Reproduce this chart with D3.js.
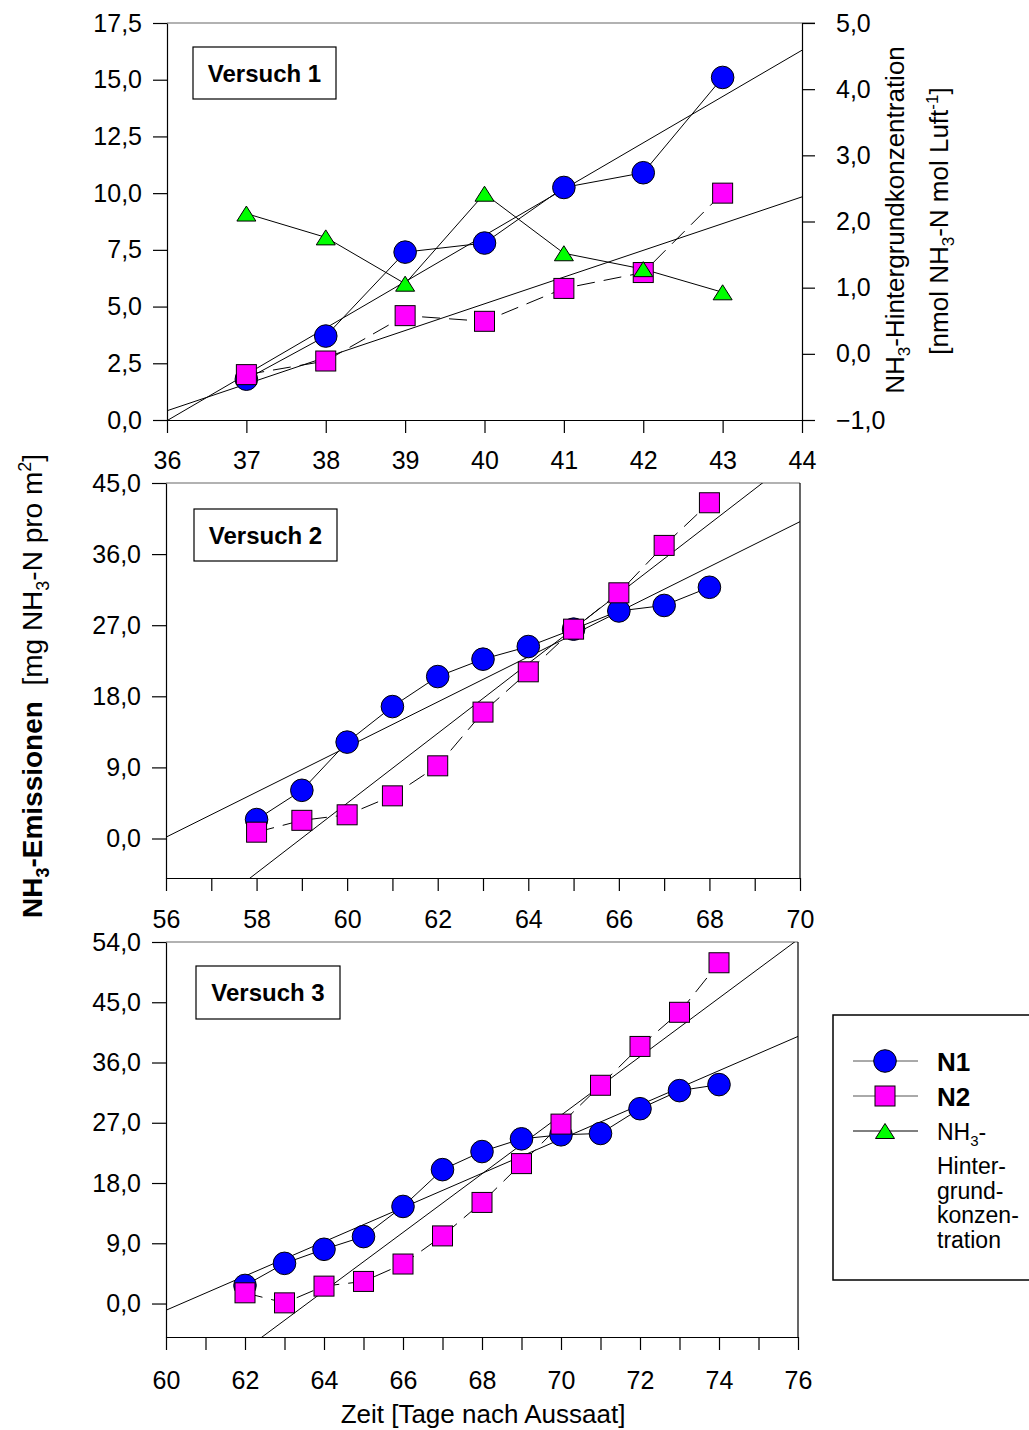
<!DOCTYPE html>
<html>
<head>
<meta charset="utf-8">
<script src="https://cdn.jsdelivr.net/npm/d3@7"></script>
<style>
  body { margin: 0; background: #fff; }
  svg { display: block; font-family: "Liberation Sans", Arial, sans-serif; }
</style>
</head>
<body>
<svg id="chart" width="1029" height="1430"></svg>
<script>
// ---- Versuch 1 (Tage 37–43) ----
const days1 = [37, 38, 39, 40, 41, 42, 43];
const n1Exp1 = [1.8, 3.7, 7.4, 7.8, 10.25, 10.9, 15.1];
const n2Exp1 = [2.0, 2.6, 4.6, 4.35, 5.8, 6.5, 10.0];
const bgExp1 = [2.12, 1.76, 1.06, 2.42, 1.52, 1.28, 0.93];   // nmol NH3-N mol Luft^-1

// ---- Versuch 2 (Tage 58–68) ----
const days2 = [58, 59, 60, 61, 62, 63, 64, 65, 66, 67, 68];
const n1Exp2 = [2.4, 6.1, 12.2, 16.7, 20.5, 22.7, 24.3, 26.5, 28.8, 29.5, 31.8];
const n2Exp2 = [0.8, 2.3, 3.0, 5.4, 9.2, 16.0, 21.1, 26.5, 31.1, 37.1, 42.5];

// ---- Versuch 3 (Tage 62–74) ----
const days3 = [62, 63, 64, 65, 66, 67, 68, 69, 70, 71, 72, 73, 74];
const n1Exp3 = [2.7, 6.0, 8.1, 10.0, 14.5, 20.0, 22.7, 24.6, 25.2, 25.4, 29.1, 31.8, 32.7];
const n2Exp3 = [1.6, 0.1, 2.6, 3.3, 5.9, 10.1, 15.1, 20.9, 26.8, 32.6, 38.4, 43.5, 50.9];

// ---- axis ticks ----
const xTicks1 = [36, 37, 38, 39, 40, 41, 42, 43, 44];
const yTicks1 = [0, 2.5, 5, 7.5, 10, 12.5, 15, 17.5];
const yTicksRight1 = [-1, 0, 1, 2, 3, 4, 5];
const xTicks2 = d3.range(56, 71);
const yTicks2 = [0, 9, 18, 27, 36, 45];
const xTicks3 = d3.range(60, 77);
const yTicks3 = [0, 9, 18, 27, 36, 45, 54];

const panelTitles = ["Versuch 1", "Versuch 2", "Versuch 3"];
const legendLabels = ["N1", "N2"];
const legendBgLines = ["NH\u2083-", "Hinter-", "grund-", "konzen-", "tration"];

const COL_N1 = "#0000ff", COL_N2 = "#ff00ff", COL_BG = "#00ff00";
const FS = 25;

const deLocale = d3.formatLocale({ decimal: ",", thousands: ".", grouping: [3], currency: ["", " €"] });
const fmt1 = deLocale.format(".1f");

const svg = d3.select("#chart");

// least-squares straight line through a series
function linFit(xs, ys) {
  const mx = d3.mean(xs), my = d3.mean(ys);
  let sxy = 0, sxx = 0;
  xs.forEach((x, i) => { sxy += (x - mx) * (ys[i] - my); sxx += (x - mx) * (x - mx); });
  const m = sxy / sxx;
  return { m, b: my - m * mx };
}

function trianglePath(cx, cy, w, h) {
  return `M${cx},${cy - h / 2}L${cx + w / 2},${cy + h / 2}L${cx - w / 2},${cy + h / 2}Z`;
}

function styleAxis(g) {
  g.selectAll("path.domain").attr("stroke", "#000").attr("stroke-width", 1.2);
  g.selectAll(".tick line").attr("stroke", "#000").attr("stroke-width", 1.2);
  g.selectAll(".tick text").attr("fill", "#000").style("font-size", FS + "px")
    .style("font-family", '"Liberation Sans", Arial, sans-serif');
}

function drawPanel(cfg) {
  const { left, right, top, bottom, xDomain, yDomain, xTicks, yTicks, xEven, xPad, id } = cfg;
  const x = d3.scaleLinear().domain(xDomain).range([left, right]);
  const y = d3.scaleLinear().domain(yDomain).range([bottom, top]);
  const g = svg.append("g");

  g.append("clipPath").attr("id", id).append("rect")
    .attr("x", left).attr("y", top).attr("width", right - left).attr("height", bottom - top);

  // frame: top edge (and right edge where there is no second axis)
  g.append("line").attr("x1", left).attr("x2", right + (cfg.rightAxis ? 13 : 0))
    .attr("y1", top).attr("y2", top).attr("stroke", "#666").attr("stroke-width", 1.2);
  if (!cfg.rightAxis) {
    g.append("line").attr("x1", right).attr("x2", right).attr("y1", top).attr("y2", bottom)
      .attr("stroke", "#000").attr("stroke-width", 1.2);
  }

  // bottom axis
  const ax = g.append("g").attr("transform", `translate(0,${bottom})`)
    .call(d3.axisBottom(x).tickValues(xTicks).tickSize(13).tickSizeOuter(0).tickPadding(xPad)
      .tickFormat(d => (!xEven || d % 2 === 0) ? d : ""));
  styleAxis(ax);

  // left axis
  const ay = g.append("g").attr("transform", `translate(${left},0)`)
    .call(d3.axisLeft(y).tickValues(yTicks).tickSize(14).tickSizeOuter(0).tickPadding(11).tickFormat(fmt1));
  styleAxis(ay);

  // regression lines
  const regG = g.append("g").attr("clip-path", `url(#${id})`);
  cfg.series.forEach(s => {
    const f = linFit(s.xs, s.ys);
    regG.append("line")
      .attr("x1", x(xDomain[0])).attr("y1", y(f.m * xDomain[0] + f.b))
      .attr("x2", x(xDomain[1])).attr("y2", y(f.m * xDomain[1] + f.b))
      .attr("stroke", "#000").attr("stroke-width", 1);
  });

  return { g, x, y };
}

function drawSeries(p, xs, ys, kind, yScale) {
  const ys2 = yScale || p.y;
  const pts = xs.map((d, i) => [d, ys[i]]);
  const path = p.g.append("path").datum(pts)
    .attr("d", d3.line().x(d => p.x(d[0])).y(d => ys2(d[1])))
    .attr("fill", "none").attr("stroke", "#000").attr("stroke-width", 1);
  if (kind === "square") path.attr("stroke-dasharray", "18,9");
  return pts;
}

function drawMarkers(p, pts, kind, yScale) {
  const ys2 = yScale || p.y;
  const sel = p.g.append("g").selectAll("x").data(pts).enter();
  if (kind === "circle") {
    sel.append("circle").attr("cx", d => p.x(d[0])).attr("cy", d => ys2(d[1])).attr("r", 11.3)
      .attr("fill", COL_N1).attr("stroke", "#000").attr("stroke-width", 1);
  } else if (kind === "square") {
    sel.append("rect").attr("x", d => p.x(d[0]) - 10).attr("y", d => ys2(d[1]) - 10)
      .attr("width", 20).attr("height", 20)
      .attr("fill", COL_N2).attr("stroke", "#000").attr("stroke-width", 1);
  } else {
    sel.append("path").attr("d", d => trianglePath(p.x(d[0]), ys2(d[1]), 19, 15))
      .attr("fill", COL_BG).attr("stroke", "#000").attr("stroke-width", 1);
  }
}

function titleBox(x0, y0, w, h, label) {
  svg.append("rect").attr("x", x0).attr("y", y0).attr("width", w).attr("height", h)
    .attr("fill", "#fff").attr("stroke", "#000").attr("stroke-width", 1.2);
  svg.append("text").attr("x", x0 + w / 2).attr("y", y0 + h / 2 + 8.5)
    .attr("text-anchor", "middle").style("font-weight", "bold").style("font-size", "24px")
    .text(label);
}

// ---------- Panel 1 ----------
const p1 = drawPanel({
  id: "clip1", left: 167, right: 802, top: 23, bottom: 420,
  xDomain: [36, 44], yDomain: [0, 17.5], xTicks: xTicks1, yTicks: yTicks1, xEven: false, xPad: 18,
  rightAxis: true,
  series: [{ xs: days1, ys: n1Exp1 }, { xs: days1, ys: n2Exp1 }]
});
const yR1 = d3.scaleLinear().domain([-1, 5]).range([420, 23]);
const ayR = p1.g.append("g").attr("transform", "translate(802,0)")
  .call(d3.axisRight(yR1).tickValues(yTicksRight1).tickSize(13).tickSizeOuter(0).tickPadding(21).tickFormat(fmt1));
styleAxis(ayR);

const a1 = drawSeries(p1, days1, n1Exp1, "circle");
const b1 = drawSeries(p1, days1, n2Exp1, "square");
const c1 = drawSeries(p1, days1, bgExp1, "triangle", yR1);
drawMarkers(p1, a1, "circle");
drawMarkers(p1, b1, "square");
drawMarkers(p1, c1, "triangle", yR1);
titleBox(193, 47, 143, 52, panelTitles[0]);

// ---------- Panel 2 ----------
const p2 = drawPanel({
  id: "clip2", left: 166, right: 800, top: 483, bottom: 878,
  xDomain: [56, 70], yDomain: [-5, 45], xTicks: xTicks2, yTicks: yTicks2, xEven: true, xPad: 19,
  series: [{ xs: days2, ys: n1Exp2 }, { xs: days2, ys: n2Exp2 }]
});
const a2 = drawSeries(p2, days2, n1Exp2, "circle");
const b2 = drawSeries(p2, days2, n2Exp2, "square");
drawMarkers(p2, a2, "circle");
drawMarkers(p2, b2, "square");
titleBox(194, 509, 143, 52, panelTitles[1]);

// ---------- Panel 3 ----------
const p3 = drawPanel({
  id: "clip3", left: 166, right: 798, top: 942, bottom: 1337,
  xDomain: [60, 76], yDomain: [-5, 54], xTicks: xTicks3, yTicks: yTicks3, xEven: true, xPad: 21,
  series: [{ xs: days3, ys: n1Exp3 }, { xs: days3, ys: n2Exp3 }]
});
const a3 = drawSeries(p3, days3, n1Exp3, "circle");
const b3 = drawSeries(p3, days3, n2Exp3, "square");
drawMarkers(p3, a3, "circle");
drawMarkers(p3, b3, "square");
titleBox(196, 966, 144, 53, panelTitles[2]);

// ---------- axis titles ----------
const yt = svg.append("text").attr("transform", "translate(42,686) rotate(-90)")
  .attr("text-anchor", "middle").style("font-size", "28px");
yt.append("tspan").style("font-weight", "bold").text("NH");
yt.append("tspan").style("font-weight", "bold").style("font-size", "18px").attr("dy", 7).text("3");
yt.append("tspan").style("font-weight", "bold").attr("dy", -7).text("-Emissionen");
yt.append("tspan").text("\u00a0\u00a0[mg NH");
yt.append("tspan").style("font-size", "18px").attr("dy", 7).text("3");
yt.append("tspan").attr("dy", -7).text("-N pro m");
yt.append("tspan").style("font-size", "18px").attr("dy", -11).text("2");
yt.append("tspan").attr("dy", 11).text("]");

const rt1 = svg.append("text").attr("transform", "translate(904,220) rotate(-90)")
  .attr("text-anchor", "middle").style("font-size", "26px");
rt1.append("tspan").text("NH");
rt1.append("tspan").style("font-size", "17px").attr("dy", 6).text("3");
rt1.append("tspan").attr("dy", -6).text("-Hintergrundkonzentration");

const rt2 = svg.append("text").attr("transform", "translate(948,221) rotate(-90)")
  .attr("text-anchor", "middle").style("font-size", "26px");
rt2.append("tspan").text("[nmol NH");
rt2.append("tspan").style("font-size", "17px").attr("dy", 6).text("3");
rt2.append("tspan").attr("dy", -6).text("-N mol Luft");
rt2.append("tspan").style("font-size", "17px").attr("dy", -10).text("-1");
rt2.append("tspan").attr("dy", 10).text("]");

svg.append("text").attr("x", 483).attr("y", 1423).attr("text-anchor", "middle")
  .style("font-size", "26px").text("Zeit [Tage nach Aussaat]");

// ---------- legend ----------
const lg = svg.append("g");
lg.append("rect").attr("x", 833).attr("y", 1015).attr("width", 260).attr("height", 265)
  .attr("fill", "#fff").attr("stroke", "#000").attr("stroke-width", 1.5);
const rowsY = [1061, 1096, 1131];
const kinds = ["circle", "square", "triangle"];
kinds.forEach((k, i) => {
  const cy = rowsY[i];
  lg.append("line").attr("x1", 853).attr("x2", 918).attr("y1", cy).attr("y2", cy)
    .attr("stroke", i < 2 ? "#555" : "#000").attr("stroke-width", 1);
  if (k === "circle") lg.append("circle").attr("cx", 885).attr("cy", cy).attr("r", 11.3)
    .attr("fill", COL_N1).attr("stroke", "#000");
  else if (k === "square") lg.append("rect").attr("x", 875).attr("y", cy - 10).attr("width", 20).attr("height", 20)
    .attr("fill", COL_N2).attr("stroke", "#000");
  else lg.append("path").attr("d", trianglePath(885, cy, 19, 15)).attr("fill", COL_BG).attr("stroke", "#000");
});
legendLabels.forEach((t, i) => {
  lg.append("text").attr("x", 937).attr("y", rowsY[i] + 10).style("font-weight", "bold")
    .style("font-size", "26px").text(t);
});
const bgText = lg.append("text").attr("x", 937).attr("y", rowsY[2] + 9).style("font-size", "23px");
bgText.append("tspan").text("NH");
bgText.append("tspan").style("font-size", "15px").attr("dy", 6).text("3");
bgText.append("tspan").attr("dy", -6).text("-");
legendBgLines.slice(1).forEach((t, i) => {
  lg.append("text").attr("x", 937).attr("y", 1174 + i * 24.7).style("font-size", "23px").text(t);
});
</script>
</body>
</html>
